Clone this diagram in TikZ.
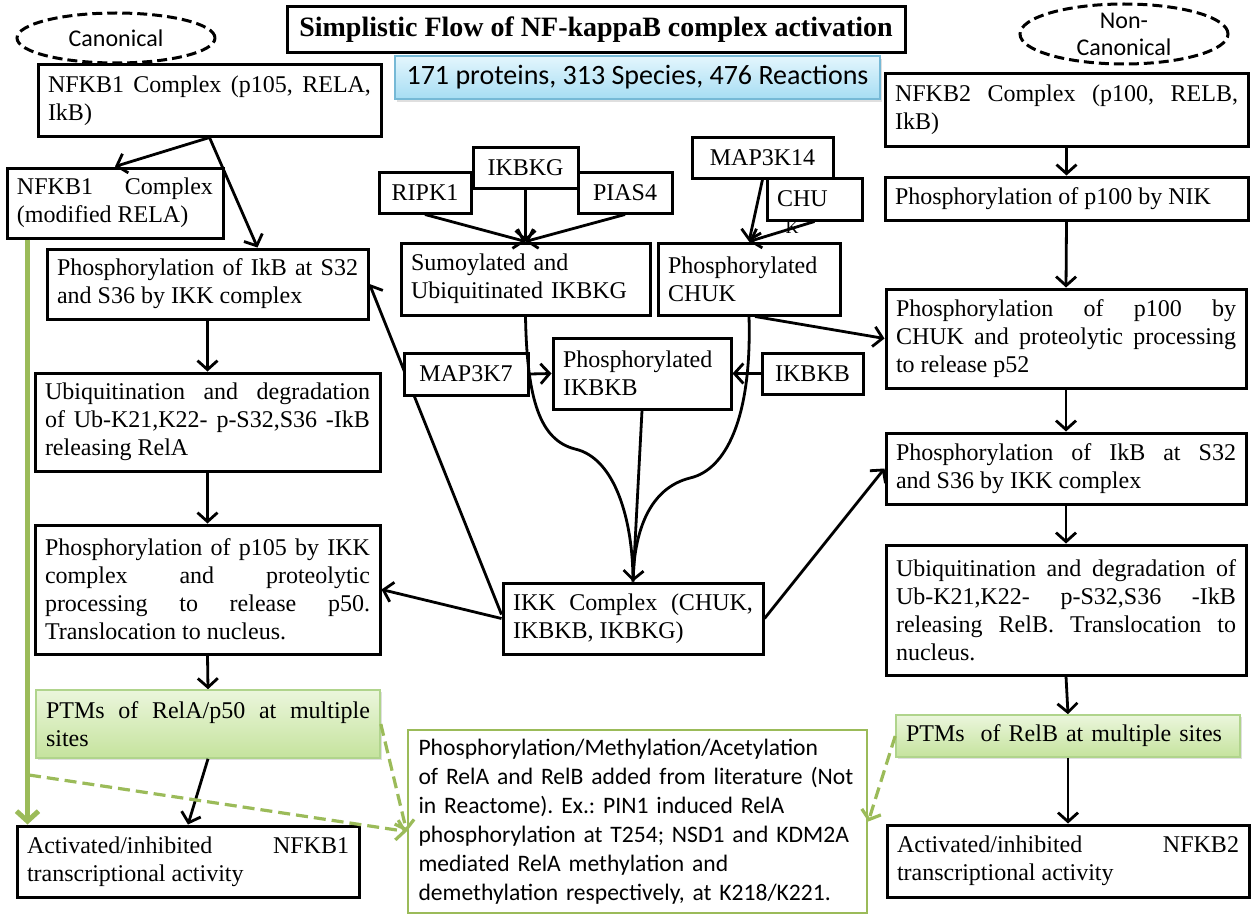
\documentclass[tikz,border=0pt]{standalone}
\usepackage{fontspec}
\setmainfont{Liberation Serif}
\newfontfamily\calibri{Carlito}
\usepackage{xcolor}
\usetikzlibrary{positioning, arrows.meta, calc, shapes.geometric, shadows, backgrounds}
\definecolor{ptmgreen}{HTML}{9BBB59}
\definecolor{ptmtop}{HTML}{EBF6DC}
\definecolor{ptmbot}{HTML}{C5E39D}
\definecolor{ptmline}{HTML}{B0D48C}
\definecolor{statstop}{HTML}{E4F6FD}
\definecolor{statsbot}{HTML}{A6DDF3}
\definecolor{statsline}{HTML}{76B9D6}
\frenchspacing

\begin{document}
\begin{tikzpicture}[x=0.5pt, y=-0.5pt,
    box/.style={draw, line width=1.5pt, fill=white, align=justify, inner xsep=5pt, inner ysep=3pt,
                font=\fontsize{12}{14}\selectfont},
    tag/.style={draw, line width=1.5pt, fill=white, inner sep=2pt, font=\fontsize{12}{14}\selectfont},
    ptm/.style={box, draw=ptmline, line width=0.8pt, top color=ptmtop, bottom color=ptmbot,
                drop shadow={shadow xshift=1pt, shadow yshift=-1pt, opacity=0.25}},
    oval/.style={ellipse, draw, fill=white, line width=1.5pt, dash pattern=on 5pt off 2.5pt, inner sep=0pt,
                 font=\calibri\fontsize{12}{14}\selectfont},
    ovaltext/.style={font=\calibri\fontsize{12}{13.5}\selectfont, align=center},
    titlebox/.style={draw, line width=1.5pt, font=\bfseries\fontsize{14}{16}\selectfont},
    stats/.style={draw=statsline, line width=0.8pt, top color=statstop, bottom color=statsbot,
                  font=\calibri\fontsize{14}{16}\selectfont,
                  drop shadow={shadow xshift=1pt, shadow yshift=-1.5pt, opacity=0.25}},
    notebox/.style={draw=ptmgreen, line width=1.3pt, fill=white, align=left, inner xsep=5.25pt,
                    font=\calibri\fontsize{11.8}{14.5}\selectfont},
    arr/.style={-{Straight Barb[length=4.5pt, width=10pt]}, line width=1.4pt},
    garr/.style={-{Straight Barb[length=5pt, width=11pt]}, line width=2.5pt, ptmgreen},
    gdash/.style={-{Straight Barb[length=4pt, width=10pt]}, line width=1.6pt, ptmgreen,
                  dash pattern=on 6pt off 3pt},
]
\useasboundingbox (0,0) rectangle (1256,915);

% Headers
\node[oval, minimum width=99pt, minimum height=25pt] (canon) at (116, 38) {Canonical};
\node[oval, minimum width=104pt, minimum height=30pt,
      label={[ovaltext]center:Non-\\Canonical}] (noncanon) at (1124, 34) {};
\node[titlebox, minimum width=309pt, minimum height=23pt] (title) at (596, 30)
  {Simplistic Flow of NF-kappaB complex activation};
\node[stats, minimum width=242.5pt, minimum height=21.5pt] (stats) at (637.5, 77.5)
  {171 proteins, 313 Species, 476 Reactions};

% Canonical branch
\node[box, text width=161.5pt, minimum height=35.5pt] (nfkb1) at (209.5, 100.5)
  {NFKB1 Complex (p105, RELA,\linebreak IkB)};
\node[box, text width=98pt, minimum height=35pt] (nfkbmod) at (115, 203)
  {NFKB1 Complex\linebreak (modified RELA)};
\node[box, text width=150.5pt, minimum height=35pt] (ikbP) at (207.5, 284)
  {Phosphorylation of IkB at S32\linebreak and S36 by IKK complex};
\node[box, text width=162.5pt, minimum height=49pt] (ubq1) at (207.5, 422)
  {Ubiquitination and degradation\linebreak of Ub-K21,K22- p-S32,S36 -IkB\linebreak releasing RelA};
\node[box, text width=162.5pt, minimum height=64.5pt] (p105) at (207.5, 589.5)
  {Phosphorylation of p105 by IKK\linebreak complex and proteolytic\linebreak
   processing to release p50.\linebreak Translocation to nucleus.};
\node[ptm, text width=162pt, minimum height=34pt] (ptm1) at (208, 724)
  {PTMs of RelA/p50 at multiple\linebreak sites};
\node[box, text width=161pt, minimum height=35.5pt] (act1) at (188, 861.5)
  {Activated/inhibited\hfill NFKB1\linebreak transcriptional activity};

% IKK assembly
\node[tag, minimum width=52.5pt, minimum height=20.5pt] (ikbkg) at (525.5, 167.5) {IKBKG};
\node[tag, minimum width=46pt, minimum height=20.5pt] (ripk1) at (425, 192.5) {RIPK1};
\node[tag, minimum width=47pt, minimum height=20.5pt] (pias4) at (625, 192.5) {PIAS4};
\node[box, text width=114.5pt, minimum height=36pt, align=left] (sumo) at (525.5, 279)
  {Sumoylated and\\Ubiquitinated IKBKG};
\node[tag, minimum width=70.5pt, minimum height=20.5pt] (map3k14) at (762.5, 157.5) {MAP3K14};
\node[tag, minimum width=47.5pt, minimum height=21pt, text width=37.5pt] (chu) at (814.5, 199) {CHU};
\node[font=\fontsize{9}{10}\selectfont, inner sep=0pt] (chuK) at (792, 228) {K};
\node[box, text width=81pt, minimum height=36pt, align=left] (chukP) at (749, 279)
  {Phosphorylated\\CHUK};
\node[tag, minimum width=62pt, minimum height=21pt] (map3k7) at (466, 374) {MAP3K7};
\node[box, text width=79pt, minimum height=35.5pt, align=left] (ikbkbP) at (642, 373.5)
  {Phosphorylated\\IKBKB};
\node[tag, minimum width=50.5pt, minimum height=20.5pt] (ikbkb) at (812.5, 373.5) {IKBKB};
\node[box, text width=120pt, minimum height=35.5pt] (ikk) at (633, 618.5)
  {IKK Complex (CHUK,\linebreak IKBKB, IKBKG)};

% Non-canonical branch
\node[box, text width=171.5pt, minimum height=36pt] (nfkb2) at (1066.5, 110)
  {NFKB2 Complex (p100, RELB,\linebreak IkB)};
\node[box, text width=171.5pt, minimum height=21.5pt] (nik) at (1066.5, 198.5)
  {Phosphorylation of p100 by NIK};
\node[box, text width=170pt, minimum height=49.5pt] (p100) at (1066, 338.5)
  {Phosphorylation of p100 by\linebreak CHUK and proteolytic processing\linebreak to release p52};
\node[box, text width=170pt, minimum height=35.5pt] (ikbP2) at (1066, 468.5)
  {Phosphorylation of IkB at S32\linebreak and S36 by IKK complex};
\node[box, text width=170pt, minimum height=65pt] (ubq2) at (1066, 610)
  {Ubiquitination and degradation of\linebreak Ub-K21,K22- p-S32,S36 -IkB\linebreak
   releasing RelB. Translocation to\linebreak nucleus.};
\node[ptm, text width=162pt, minimum height=21pt, align=left] (ptm2) at (1068, 736)
  {PTMs\ \ of RelB at multiple sites};
\node[box, text width=171pt, minimum height=36pt] (act2) at (1068, 861)
  {Activated/inhibited\hfill NFKB2\linebreak transcriptional activity};

% Literature PTMs
\node[notebox, text width=219pt, minimum height=91.5pt] (note) at (637.5, 821.5)
  {Phosphorylation/Methylation/Acetylation\\
   of RelA and RelB added from literature (Not\\
   in Reactome). Ex.: PIN1 induced RelA\\
   phosphorylation at T254; NSD1 and KDM2A\\
   mediated RelA methylation and\\
   demethylation respectively, at K218/K221.};

% Canonical arrows
\draw[arr] (nfkb1.south) -- (nfkbmod.north);
\draw[arr] (nfkb1.south) -- ($(ikbP.north)+(50,0)$);
\draw[arr] (ikbP.south) -- (ubq1.north);
\draw[arr] (ubq1.south) -- (p105.north);
\draw[arr] (p105.south) -- (ptm1.north);
\draw[arr] (ptm1.south) -- (act1.north);

% IKK arrows
\draw[arr] (ripk1.south) -- (sumo.north);
\draw[arr] (ikbkg.south) -- (sumo.north);
\draw[arr] (pias4.south) -- (sumo.north);
\draw[arr] (map3k14.south) -- (chukP.north);
\draw[arr] (chu.south) -- (chukP.north);
\draw[arr] (map3k7.east) -- (ikbkbP.west);
\draw[arr] (ikbkb.west) -- (ikbkbP.east);
\draw[line width=1.4pt] (sumo.south) .. controls (527,400) and (540,440) .. (575,449)
  .. controls (615,458) and (633,520) .. (ikk.north);
\draw[line width=1.4pt] (chukP.south) .. controls (752,420) and (725,470) .. (690,478)
  .. controls (650,488) and (634,530) .. (ikk.north);
\draw[arr] (ikbkbP.south) -- (ikk.north);
\draw[arr] (ikk.west) -- (p105.east);
\begin{scope}[on background layer]
  \draw[arr] ([yshift=2pt]ikk.west) -- (ikbP.east);
\end{scope}
\draw[arr] (ikk.east) -- (ikbP2.west);
\draw[arr] ($(chukP.south)+(6,0)$) -- (p100.west);

% Non-canonical arrows
\draw[arr] (nfkb2.south) -- (nik.north);
\draw[arr] (nik.south) -- (p100.north);
\draw[arr] (p100.south) -- (ikbP2.north);
\draw[arr] (ikbP2.south) -- (ubq2.north);
\draw[arr] (ubq2.south) -- (ptm2.north);
\draw[arr] (ptm2.south) -- (act2.north);

% Green links
\coordinate (gfork) at (29, 775);
\draw[garr] ($(nfkbmod.south west)+(22,0)$) -- ($(act1.north west)+(12,0)$);
\draw[gdash] (gfork) -- ([yshift=-5pt]note.west);
\draw[gdash] (ptm1.east) -- ([yshift=-5pt]note.west);
\draw[gdash] (ptm2.west) -- (note.east);

\end{tikzpicture}
\end{document}
